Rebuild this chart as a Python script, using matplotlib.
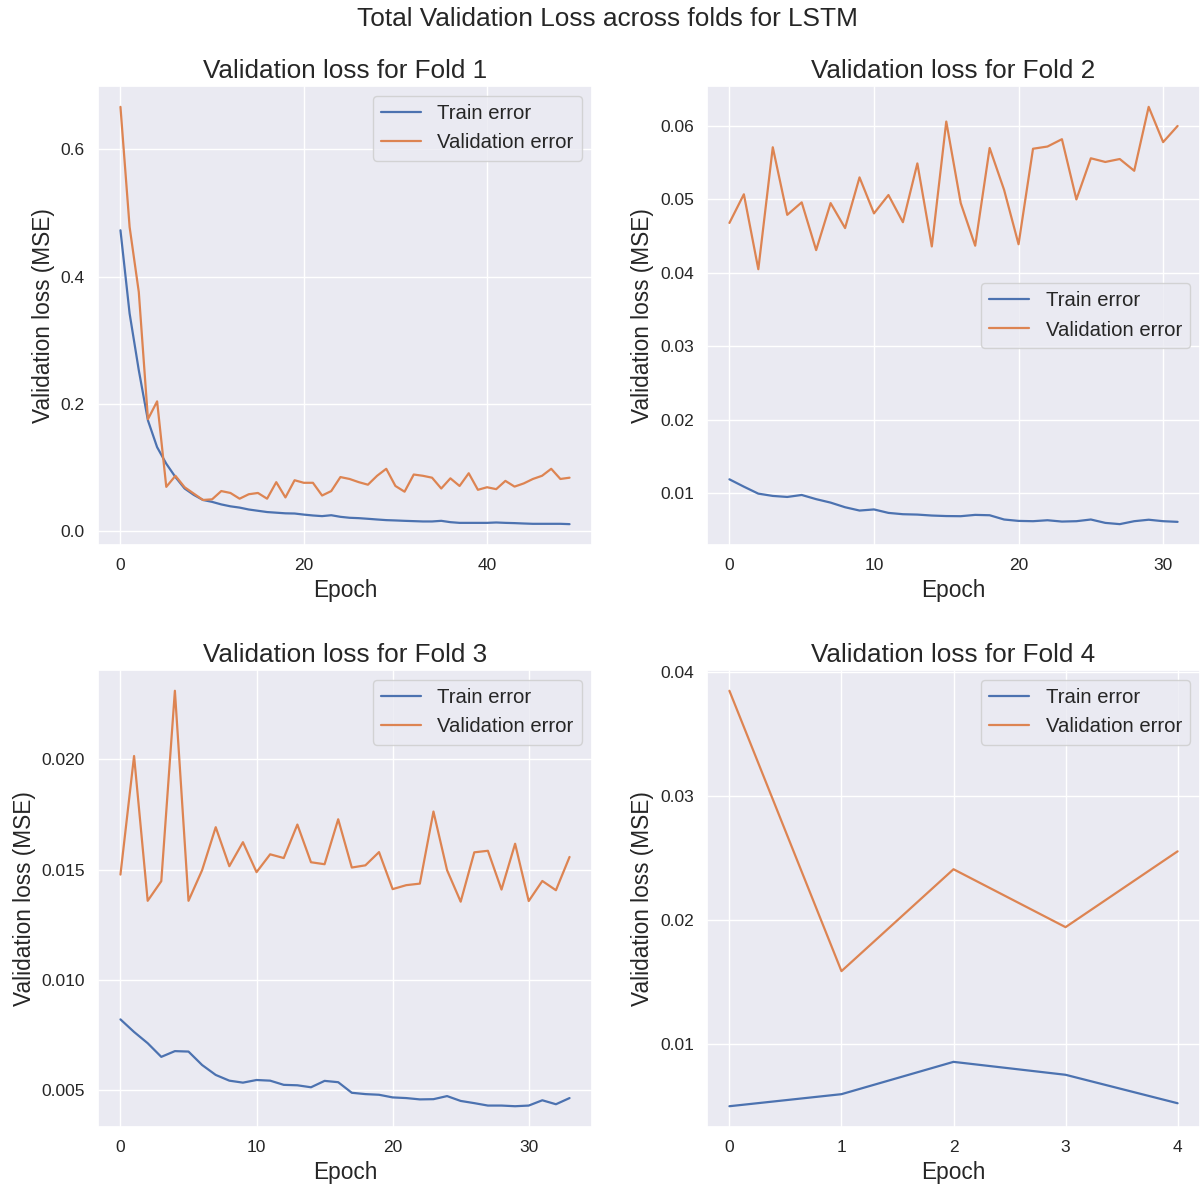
import matplotlib
matplotlib.use("Agg")
import matplotlib.pyplot as plt
from matplotlib.ticker import MultipleLocator
import seaborn as sns
import numpy as np

sns.set_theme(style="darkgrid")
plt.rcParams['font.family'] = ['Liberation Sans', 'DejaVu Sans']

fold1_train = [0.473, 0.342, 0.253, 0.174, 0.132, 0.106, 0.085, 0.067, 0.057, 0.049,
               0.046, 0.042, 0.039, 0.037, 0.034, 0.032, 0.030, 0.029, 0.028, 0.0277,
               0.026, 0.0246, 0.0236, 0.025, 0.0225, 0.021, 0.0204, 0.0194, 0.0183, 0.0173,
               0.0168, 0.0162, 0.0157, 0.0152, 0.0152, 0.0162, 0.0141, 0.013, 0.013, 0.013,
               0.013, 0.0136, 0.013, 0.0126, 0.012, 0.0115, 0.0115, 0.0115, 0.0115, 0.011]
fold1_val = [0.667, 0.478, 0.376, 0.176, 0.204, 0.0696, 0.087, 0.069, 0.059, 0.049,
             0.050, 0.063, 0.060, 0.051, 0.058, 0.060, 0.051, 0.077, 0.053, 0.080,
             0.076, 0.076, 0.056, 0.063, 0.085, 0.082, 0.077, 0.073, 0.087, 0.098,
             0.071, 0.062, 0.089, 0.087, 0.084, 0.067, 0.083, 0.071, 0.091, 0.065,
             0.069, 0.066, 0.079, 0.070, 0.075, 0.082, 0.087, 0.098, 0.082, 0.084]

fold2_train = [0.0119, 0.0109, 0.00995, 0.00964, 0.0095, 0.00977, 0.0092, 0.00873, 0.0081, 0.00765,
               0.0078, 0.00733, 0.00715, 0.0071, 0.00697, 0.0069, 0.00688, 0.00706, 0.00701, 0.00643,
               0.00624, 0.0062, 0.00633, 0.00615, 0.0062, 0.00643, 0.00597, 0.0058, 0.0062, 0.0064,
               0.0062, 0.00611]
fold2_val = [0.0468, 0.0507, 0.0405, 0.0571, 0.0479, 0.0496, 0.0431, 0.0495, 0.0461, 0.0530,
             0.0481, 0.0506, 0.0469, 0.0549, 0.0436, 0.0606, 0.0495, 0.0437, 0.0570, 0.0513,
             0.0439, 0.0569, 0.0572, 0.0582, 0.0500, 0.0556, 0.0551, 0.0555, 0.0539, 0.0626,
             0.0578, 0.0600]

fold3_train = [0.0082, 0.00763, 0.00712, 0.0065, 0.00676, 0.00674, 0.00613, 0.00568, 0.00542, 0.00533,
               0.00545, 0.00542, 0.00523, 0.00521, 0.00512, 0.00541, 0.00535, 0.00487, 0.00481, 0.00478,
               0.00466, 0.00463, 0.00457, 0.00458, 0.00472, 0.0045, 0.0044, 0.00429, 0.00429, 0.00426,
               0.00429, 0.00453, 0.00435, 0.00463]
fold3_val = [0.01477, 0.02015, 0.01358, 0.01447, 0.02311, 0.01358, 0.01497, 0.01692, 0.01515, 0.01624,
             0.01488, 0.01569, 0.01552, 0.01704, 0.01533, 0.01524, 0.01728, 0.01509, 0.01519, 0.01579,
             0.01411, 0.01429, 0.01436, 0.01763, 0.01497, 0.01354, 0.01578, 0.01585, 0.01409, 0.01617,
             0.01357, 0.01448, 0.01406, 0.01557]

fold4_train = [0.00503, 0.0060, 0.0086, 0.00756, 0.00527]
fold4_val = [0.03846, 0.0159, 0.0241, 0.01944, 0.02554]

folds = [(fold1_train, fold1_val), (fold2_train, fold2_val),
         (fold3_train, fold3_val), (fold4_train, fold4_val)]
legend_locs = ['upper right', 'center right', 'upper right', 'upper right']
x_steps = [20, 10, 10, 1]
y_steps = [0.2, 0.01, 0.005, 0.01]

W, H = 1201, 1189
fig = plt.figure(figsize=(W / 100, H / 100), dpi=100)

boxes = [(98, 86, 592, 545), (707, 86, 1200, 545),
         (98, 670, 592, 1127), (707, 670, 1200, 1127)]

for i, ((tr, va), (x0, y0, x1, y1)) in enumerate(zip(folds, boxes)):
    ax = fig.add_axes([x0 / W, 1 - y1 / H, (x1 - x0) / W, (y1 - y0) / H])
    ep = np.arange(len(tr))
    ax.plot(ep, tr, label='Train error', lw=1.6)
    ax.plot(ep, va, label='Validation error', lw=1.6)
    ax.set_title(f'Validation loss for Fold {i + 1}', fontsize=18.8)
    ax.set_xlabel('Epoch', fontsize=16.3)
    ax.set_ylabel('Validation loss (MSE)', fontsize=16.3)
    ax.tick_params(labelsize=12.5)
    ax.xaxis.set_major_locator(MultipleLocator(x_steps[i]))
    ax.yaxis.set_major_locator(MultipleLocator(y_steps[i]))
    ax.legend(loc=legend_locs[i], fontsize=14.6)

fig.suptitle('Total Validation Loss across folds for LSTM', fontsize=18.9, x=0.506, y=0.994)
fig.savefig('out.png', dpi=100)
